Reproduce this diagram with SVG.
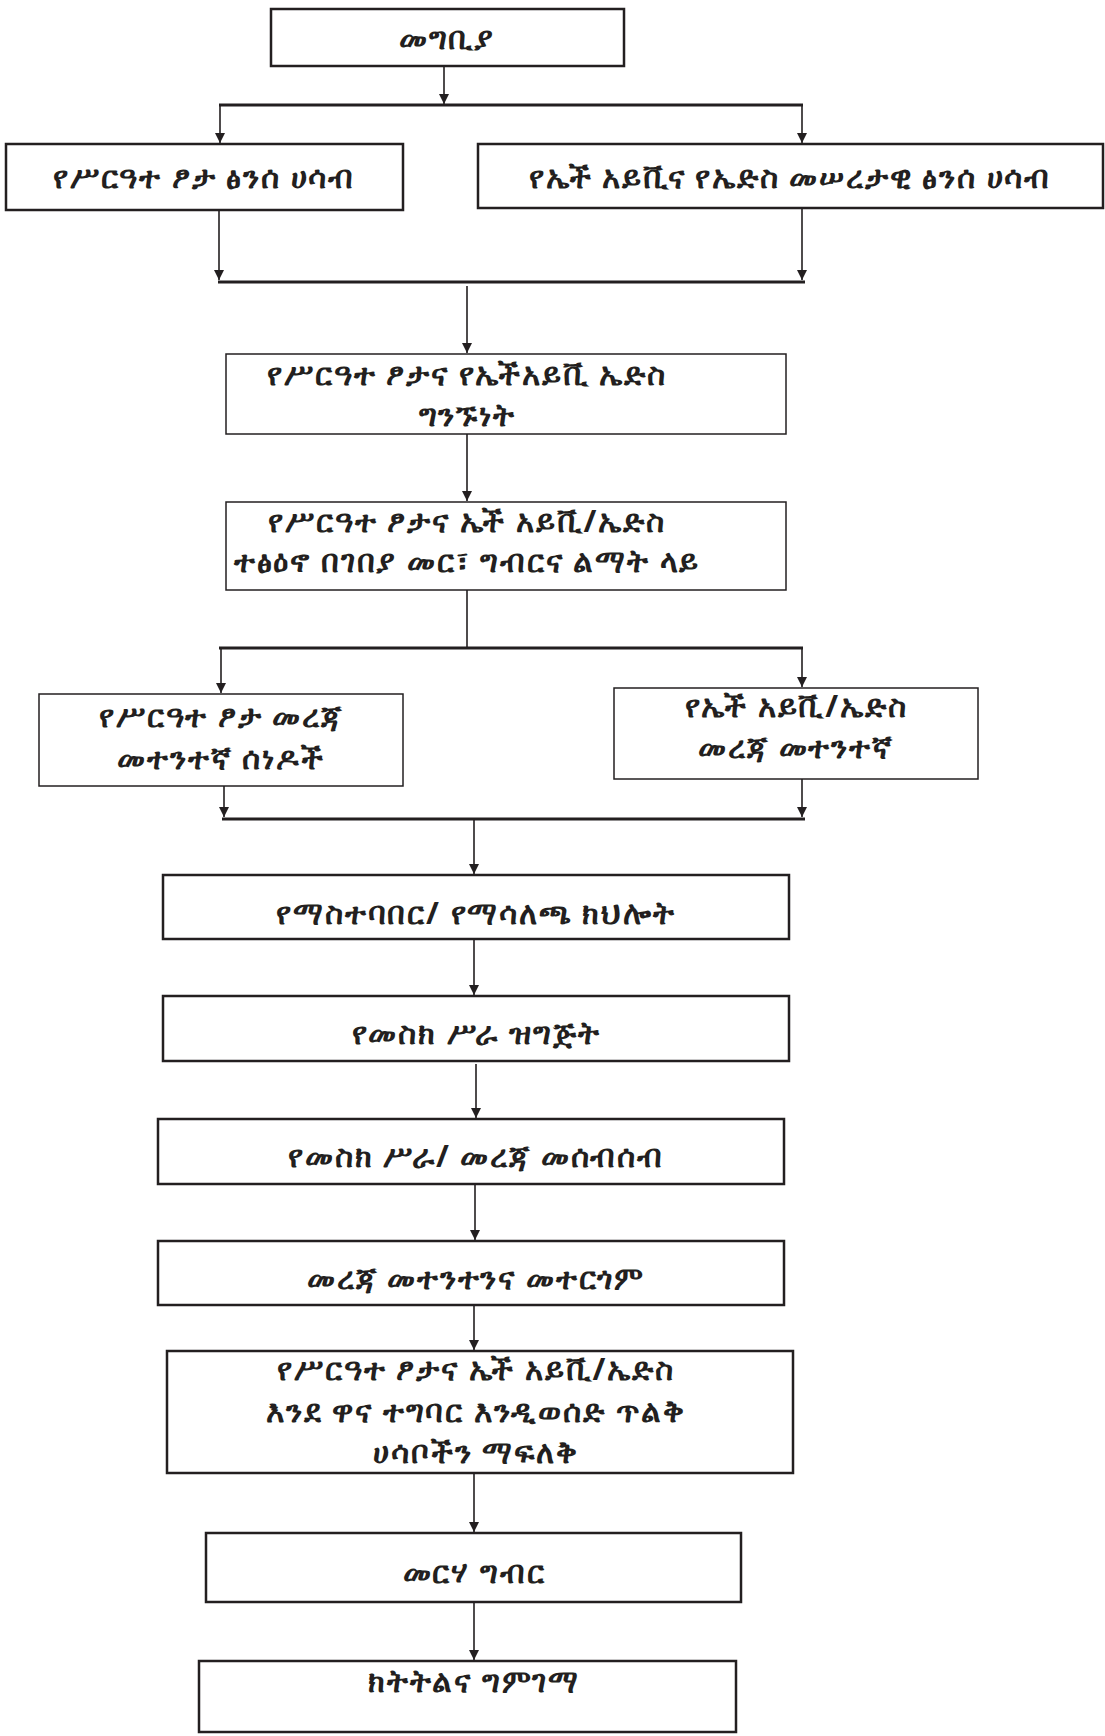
<svg xmlns="http://www.w3.org/2000/svg" width="1105" height="1736" viewBox="0 0 1105 1736">
<style>
.box{fill:#fff;stroke:#231f20;stroke-width:2.5}
.thin{fill:#fff;stroke:#231f20;stroke-width:1.5}
.t{font-family:"Noto Sans","DejaVu Sans",sans-serif;font-size:31px;letter-spacing:1.8px;font-weight:bold;fill:#231f20;text-anchor:middle}
.ln{stroke:#231f20;stroke-width:1.6;fill:none}
.bus{stroke:#231f20;stroke-width:3.2;fill:none}
</style>
<defs>
<marker id="ah" viewBox="0 0 10 10" refX="10" refY="5" markerWidth="10" markerHeight="10" markerUnits="userSpaceOnUse" orient="auto">
<path d="M0,0 L10,5 L0,10 z" fill="#231f20"/>
</marker>
</defs>
<rect width="1105" height="1736" fill="#fff"/>
<g id="connectors">
<line class="ln" x1="444" y1="66" x2="444" y2="104" marker-end="url(#ah)"/>
<line class="bus" x1="219" y1="105" x2="803" y2="105"/>
<line class="ln" x1="220" y1="105" x2="220" y2="143" marker-end="url(#ah)"/>
<line class="ln" x1="802" y1="105" x2="802" y2="143" marker-end="url(#ah)"/>
<line class="ln" x1="219" y1="210" x2="219" y2="280" marker-end="url(#ah)"/>
<line class="ln" x1="802" y1="208" x2="802" y2="280" marker-end="url(#ah)"/>
<line class="bus" x1="218" y1="282" x2="805" y2="282"/>
<line class="ln" x1="467" y1="286" x2="467" y2="353" marker-end="url(#ah)"/>
<line class="ln" x1="467" y1="434" x2="467" y2="501" marker-end="url(#ah)"/>
<line class="ln" x1="467" y1="590" x2="467" y2="648"/>
<line class="bus" x1="219" y1="648" x2="803" y2="648"/>
<line class="ln" x1="221" y1="648" x2="221" y2="693" marker-end="url(#ah)"/>
<line class="ln" x1="802" y1="648" x2="802" y2="687" marker-end="url(#ah)"/>
<line class="ln" x1="224" y1="786" x2="224" y2="817" marker-end="url(#ah)"/>
<line class="ln" x1="802" y1="779" x2="802" y2="817" marker-end="url(#ah)"/>
<line class="bus" x1="222" y1="819" x2="805" y2="819"/>
<line class="ln" x1="474" y1="819" x2="474" y2="874" marker-end="url(#ah)"/>
<line class="ln" x1="474" y1="939" x2="474" y2="995" marker-end="url(#ah)"/>
<line class="ln" x1="476" y1="1064" x2="476" y2="1118" marker-end="url(#ah)"/>
<line class="ln" x1="475" y1="1184" x2="475" y2="1240" marker-end="url(#ah)"/>
<line class="ln" x1="474" y1="1305" x2="474" y2="1350" marker-end="url(#ah)"/>
<line class="ln" x1="474" y1="1473" x2="474" y2="1532" marker-end="url(#ah)"/>
<line class="ln" x1="474" y1="1602" x2="474" y2="1660" marker-end="url(#ah)"/>
</g>
<g id="n1"><rect class="box" x="271" y="9" width="353" height="57"/><text class="t" x="447" y="49">መግቢያ</text></g>
<g id="n2"><rect class="box" x="6" y="144" width="397" height="66"/><text class="t" x="204" y="188">የሥርዓተ ፆታ ፅንሰ ሀሳብ</text></g>
<g id="n3"><rect class="box" x="478" y="144" width="625" height="64"/><text class="t" x="790" y="188">የኤች አይቪና የኤድስ መሠረታዊ ፅንሰ ሀሳብ</text></g>
<g id="n4"><rect class="thin" x="226" y="354" width="560" height="80"/><text class="t" x="467" y="385">የሥርዓተ ፆታና የኤችአይቪ ኤድስ</text><text class="t" x="467" y="426">ግንኙነት</text></g>
<g id="n5"><rect class="thin" x="226" y="502" width="560" height="88"/><text class="t" x="467" y="532">የሥርዓተ ፆታና ኤች አይቪ/ኤድስ</text><text class="t" x="467" y="572">ተፅዕኖ በገበያ መር፣ ግብርና ልማት ላይ</text></g>
<g id="n6"><rect class="thin" x="39" y="694" width="364" height="92"/><text class="t" x="221" y="727">የሥርዓተ ፆታ መረጃ</text><text class="t" x="221" y="769">መተንተኛ ሰነዶች</text></g>
<g id="n7"><rect class="thin" x="614" y="688" width="364" height="91"/><text class="t" x="796" y="717">የኤች አይቪ/ኤድስ</text><text class="t" x="796" y="758">መረጃ መተንተኛ</text></g>
<g id="n8"><rect class="box" x="163" y="875" width="626" height="64"/><text class="t" x="476" y="924">የማስተባበር/ የማሳለጫ ክህሎት</text></g>
<g id="n9"><rect class="box" x="163" y="996" width="626" height="65"/><text class="t" x="476" y="1044">የመስክ ሥራ ዝግጅት</text></g>
<g id="n10"><rect class="box" x="158" y="1119" width="626" height="65"/><text class="t" x="476" y="1167">የመስክ ሥራ/ መረጃ መሰብሰብ</text></g>
<g id="n11"><rect class="box" x="158" y="1241" width="626" height="64"/><text class="t" x="476" y="1289">መረጃ መተንተንና መተርጎም</text></g>
<g id="n12"><rect class="box" x="167" y="1351" width="626" height="122"/><text class="t" x="476" y="1380">የሥርዓተ ፆታና ኤች አይቪ/ኤድስ</text><text class="t" x="476" y="1422">እንደ ዋና ተግባር እንዲወሰድ ጥልቅ</text><text class="t" x="476" y="1463">ሀሳቦችን ማፍለቅ</text></g>
<g id="n13"><rect class="box" x="206" y="1533" width="535" height="69"/><text class="t" x="474" y="1583">መርሃ ግብር</text></g>
<g id="n14"><rect class="box" x="199" y="1661" width="537" height="71"/><text class="t" x="474" y="1692">ክትትልና ግምገማ</text></g>
</svg>
